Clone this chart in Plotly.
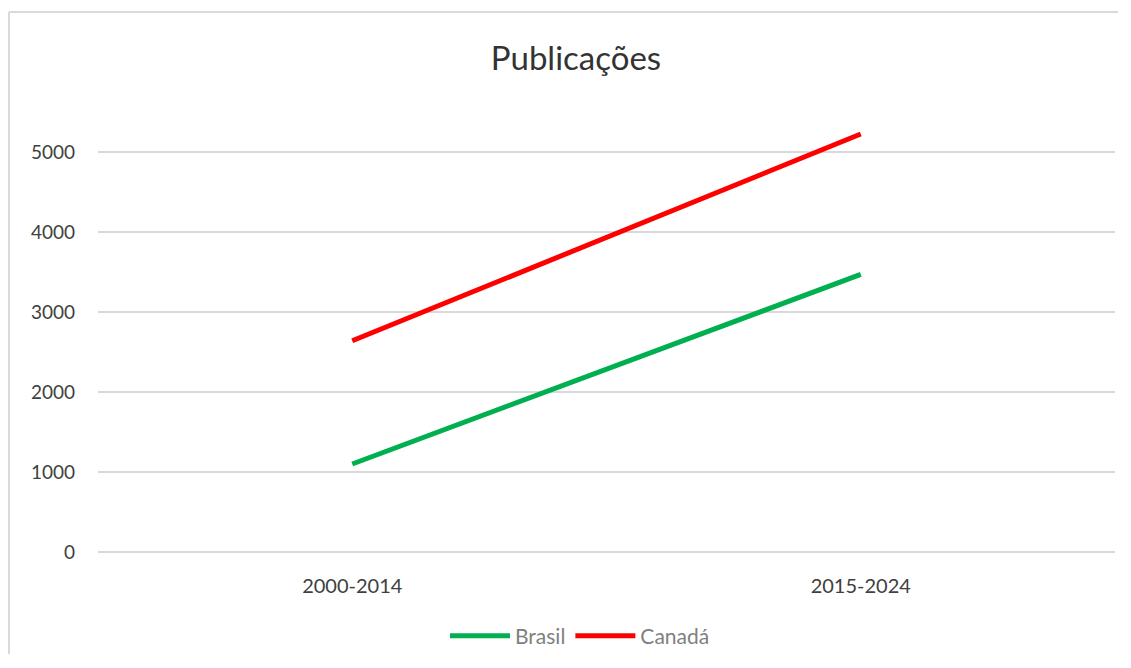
import plotly.graph_objects as go

categories = ["2000-2014", "2015-2024"]
brasil = [1100, 3470]
canada = [2640, 5225]
ytick_vals = [0, 1000, 2000, 3000, 4000, 5000]
ytick_text = ["0", "1000", "2000", "3000", "4000", "5000"]

# page body has an 8px margin, so figure coordinates are screen minus 8
W, H = 1110, 646
L, R, T, B = 90, 3, 112, 102
pw = W - L - R
ph = H - T - B

fig = go.Figure()
fig.add_trace(go.Scatter(x=categories, y=brasil, mode="lines", name="Brasil",
                         line=dict(color="#00B050", width=5)))
fig.add_trace(go.Scatter(x=categories, y=canada, mode="lines", name="Canadá",
                         line=dict(color="#FF0000", width=5)))

font_family = "Lato, 'Open Sans', sans-serif"

# chart border (top and left edges visible)
bx = (1 - L) / pw
by = (H - B - 4) / ph
fig.add_shape(type="line", xref="paper", yref="paper", x0=bx, x1=bx, y0=-B / ph, y1=by,
              line=dict(color="#D9D9D9", width=2))
fig.add_shape(type="line", xref="paper", yref="paper", x0=bx, x1=(W - L) / pw, y0=by, y1=by,
              line=dict(color="#D9D9D9", width=2))

fig.update_layout(
    width=W, height=H,
    margin=dict(l=L, r=R, t=T, b=B, autoexpand=False),
    paper_bgcolor="white", plot_bgcolor="white",
    font=dict(family=font_family, color="#595959", size=19),
    title=dict(text="Publicações", x=568 / W, xanchor="center", xref="container",
               y=1 - 50 / H, yanchor="middle", yref="container",
               font=dict(size=33, color="#333333", family=font_family)),
    showlegend=True,
    legend=dict(orientation="h", x=(572 - L) / pw, xanchor="center",
                y=(H - B - 628) / ph, yanchor="middle",
                itemwidth=60,
                font=dict(size=21, color="#7F7F7F", family=font_family),
                bgcolor="rgba(0,0,0,0)"),
    xaxis=dict(type="category", range=[-0.5, 1.5], showgrid=False, zeroline=False,
               showline=False, ticks="", ticklabelstandoff=20,
               tickfont=dict(size=20, color="#404040")),
    yaxis=dict(range=[0, 5400], tickvals=ytick_vals, ticktext=ytick_text,
               showgrid=True, gridcolor="#D9D9D9", gridwidth=1.5,
               zeroline=True, zerolinecolor="#D9D9D9", zerolinewidth=1.5,
               showline=False, ticks="", ticklabelstandoff=22,
               tickfont=dict(size=19, color="#404040")),
)

fig.write_html("out.html")
